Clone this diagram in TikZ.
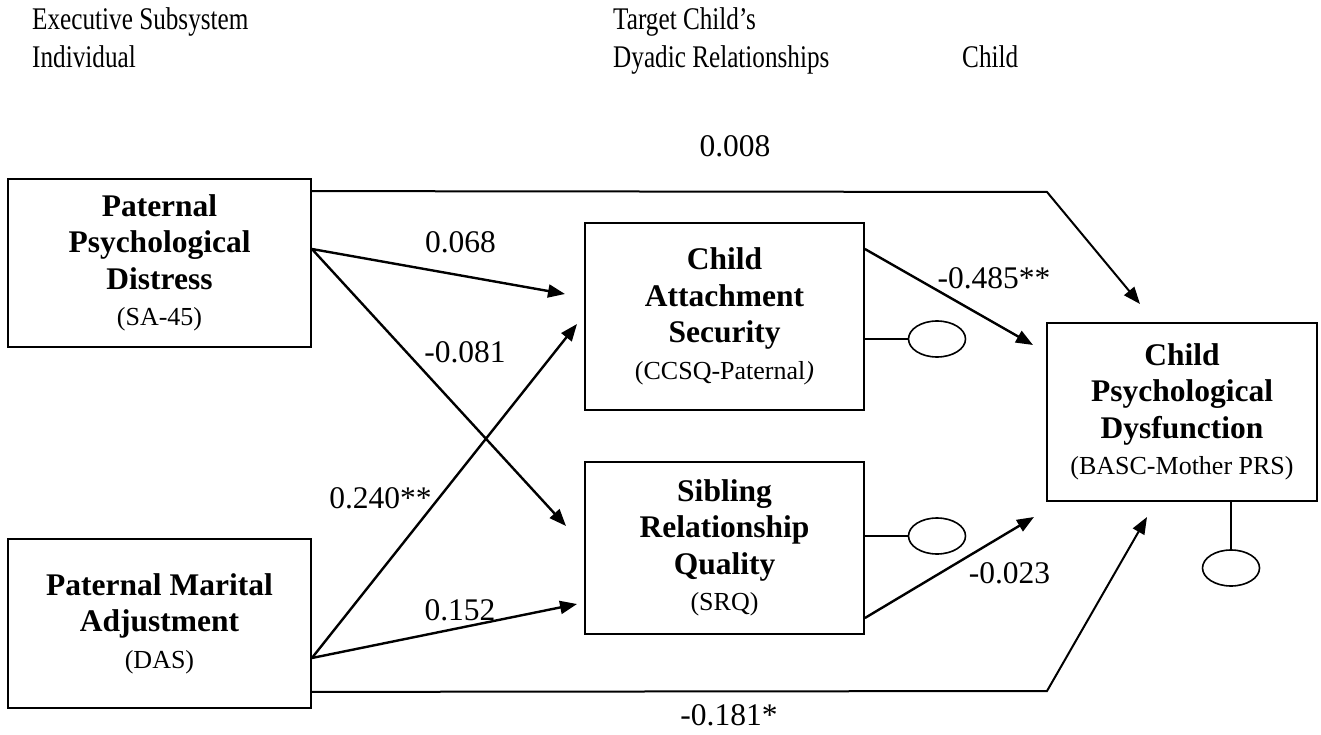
\documentclass[tikz,border=0pt]{standalone}
\usepackage{fontspec}
\setmainfont{Liberation Serif}
\usetikzlibrary{arrows.meta,shapes.geometric,calc}
\newcommand\subtxt[1]{{\fontsize{26}{36.5}\selectfont\mdseries #1}}
\begin{document}
\begin{tikzpicture}[x=1pt,y=-1pt,
  box/.style={draw, line width=1.8pt, rectangle, inner sep=0pt, align=center,
    font=\fontsize{31.5}{36.5}\selectfont\bfseries},
  arr/.style={line width=2.4pt, -{Triangle[length=17pt,width=13pt]}},
  lbl/.style={anchor=base, inner sep=0pt, font=\fontsize{31.5}{36.5}\selectfont},
  hdr/.style={anchor=base west, inner sep=0pt, font=\fontsize{31.5}{38}\selectfont},
  err/.style={draw, ellipse, line width=1.6pt, minimum width=57pt, minimum height=36pt, inner sep=0pt},
  lnk/.style={line width=1.6pt}]
\useasboundingbox (0,0) rectangle (1321,735);

% headers
\node[hdr] (h1) at (32,30) {\scalebox{0.8}[1]{Executive Subsystem}};
\node[hdr] (h2) at (32,68) {\scalebox{0.8}[1]{Individual}};
\node[hdr] (h3) at (613,30) {\scalebox{0.8}[1]{Target Child’s}};
\node[hdr] (h4) at (613,68) {\scalebox{0.8}[1]{Dyadic Relationships}};
\node[hdr] (h5) at (962,68) {\scalebox{0.8}[1]{Child}};

% boxes
\node[box, minimum width=303pt, minimum height=168pt] (ppd) at (159.5,263)
  {Paternal\\Psychological\\Distress\\\subtxt{(SA-45)}};
\node[box, minimum width=303pt, minimum height=169pt] (pma) at (159.5,623.5)
  {Paternal Marital\\Adjustment\\\subtxt{(DAS)}};
\node[box, minimum width=279pt, minimum height=187pt] (cas) at (724.5,316.5)
  {Child\\Attachment\\Security\\\subtxt{(CCSQ-Paternal\textit{)}}};
\node[box, minimum width=279pt, minimum height=172pt] (srq) at (724.5,548)
  {Sibling\\Relationship\\Quality\\\subtxt{(SRQ)}};
\node[box, minimum width=270pt, minimum height=178pt] (cpd) at (1182,412)
  {Child\\Psychological\\Dysfunction\\\subtxt{(BASC-Mother PRS)}};

% error terms
\node[err] (e1) at (937,339) {};
\node[err] (e2) at (937,536) {};
\node[err] (e3) at (1231,568) {};
\draw[lnk] (cas.east |- e1) -- (e1.west);
\draw[lnk] (srq.east |- e2) -- (e2.west);
\draw[lnk] (cpd.south -| e3) -- (e3.north);

% arrow end points
\coordinate (c1) at (1047,192);
\coordinate (t1) at (1140,304);
\coordinate (c2) at (1047,691);
\coordinate (t2) at (1147,517);
\coordinate (tcas1) at (565,294);
\coordinate (tsrq1) at (566,526);
\coordinate (tcas2) at (577,324);
\coordinate (tsrq2) at (577,604);
\coordinate (tcpd1) at (1033,345);
\coordinate (tcpd2) at (1034,517);

% paths
\draw[arr, line width=2pt] ([yshift=-13pt]ppd.north east) -- (c1) -- (t1);
\draw[arr, line width=2pt] ([yshift=17pt]pma.south east) -- (c2) -- (t2);
\draw[arr] ([yshift=14pt]ppd.east) -- (tcas1);
\draw[arr] ([yshift=14pt]ppd.east) -- (tsrq1);
\draw[arr] ([yshift=-34.5pt]pma.east) -- (tcas2);
\draw[arr] ([yshift=-34.5pt]pma.east) -- (tsrq2);
\draw[arr] ([yshift=67.5pt]cas.east) -- (tcpd1);
\draw[arr] ([yshift=-70pt]srq.east) -- (tcpd2);

% labels
\node[lbl] (l1) at (735,157) {0.008};
\node[lbl] (l2) at (460.5,252) {0.068};
\node[lbl] (l3) at (465,362) {-0.081};
\node[lbl] (l4) at (380.5,508) {0.240**};
\node[lbl] (l5) at (460,620) {0.152};
\node[lbl] (l6) at (994,288) {-0.485**};
\node[lbl] (l7) at (1009.5,583) {-0.023};
\node[lbl] (l8) at (729,725) {-0.181*};
\end{tikzpicture}
\end{document}
